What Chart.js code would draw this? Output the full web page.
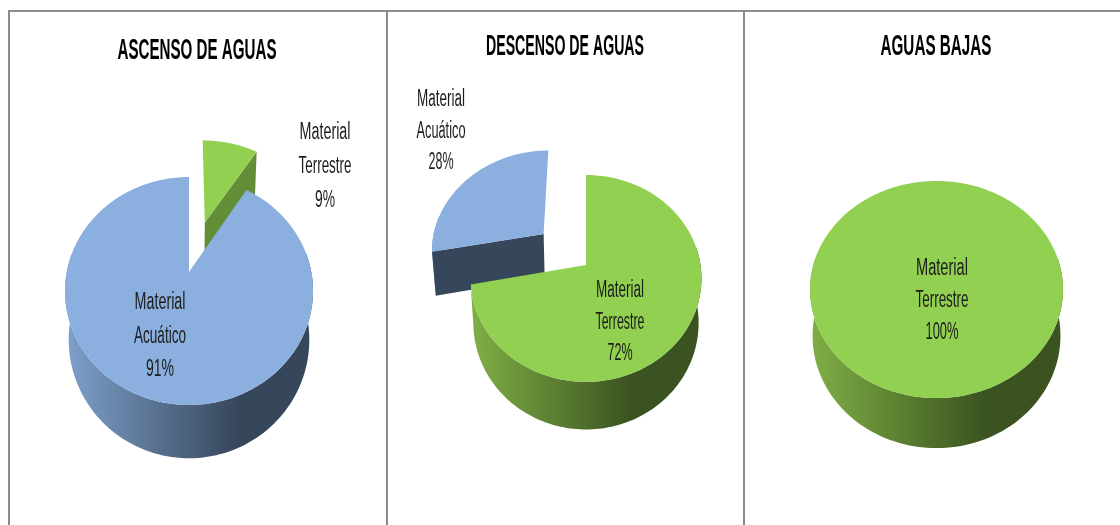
<!DOCTYPE html>
<html><head><meta charset="utf-8">
<style>
html,body{margin:0;padding:0;background:#fff;width:1120px;height:525px;overflow:hidden}
canvas{position:absolute;display:block;filter:blur(0.4px)}
.rule{position:absolute;background:#8c8c8c}
</style>
<script src="https://cdn.jsdelivr.net/npm/chart.js@4"></script>
</head><body>
<div class="rule" style="left:8px;top:10px;width:1112px;height:2px"></div>
<div class="rule" style="left:8px;top:10px;width:1.5px;height:515px"></div>
<div class="rule" style="left:386px;top:10px;width:1.5px;height:515px"></div>
<div class="rule" style="left:743px;top:10px;width:1.5px;height:515px"></div>
<canvas id="c1"></canvas><canvas id="c2"></canvas><canvas id="c3"></canvas>
<script>
// ---- data ----
const titles = ['ASCENSO DE AGUAS', 'DESCENSO DE AGUAS', 'AGUAS BAJAS'];
const labelsAscenso = ['Material Terrestre', 'Material Acuático'];
const valuesAscenso = [9, 91];
const labelsDescenso = ['Material Terrestre', 'Material Acuático'];
const valuesDescenso = [72, 28];
const labelsBajas = ['Material Terrestre'];
const valuesBajas = [100];
const explodeAscenso = [0.5, 0];
const explodeDescenso = [0, 0.5];
const explodeBajas = [0];

// ---- styles ----
const GREEN = {top:'#91d050', face:'#638d37', light:'#7fae45', dark:'#3a5320'};
const BLUE  = {top:'#8bb0e0', face:'#37475b', light:'#7d9fca', dark:'#37475b'};
const FONT = '"Liberation Sans Narrow","Liberation Sans",sans-serif';

// ---- panels: frame + perspective of the pie + text anchors ----
const panels = [
 {id:'c1', left:10, right:386, top:12, labels:labelsAscenso, values:valuesAscenso, explode:explodeAscenso,
  colors:[GREEN,BLUE], cx:189, cy:272, A:110.8, B:122.3, k:1/6, D:50, m:0.03,
  title:{text:titles[0], x:197, y:51, w:159},
  text:[{x:325,y:133,dy:34,w:[51,53,20]},{x:160,y:303,dy:33.5,w:[51,52,28]}]},
 {id:'c2', left:388, right:743, top:12, labels:labelsDescenso, values:valuesDescenso, explode:explodeDescenso,
  colors:[GREEN,BLUE], cx:586, cy:265, A:101.7, B:114.5, k:0.13, D:45.5, m:0.025,
  title:{text:titles[1], x:565, y:47, w:158},
  text:[{x:620,y:291,dy:31.5,w:[48,49,25]},{x:441,y:100,dy:31.5,w:[48,49,25]}]},
 {id:'c3', left:745, right:1120, top:12, labels:labelsBajas, values:valuesBajas, explode:explodeBajas,
  colors:[GREEN], cx:936.5, cy:275.4, A:106.7, B:125.4, k:0.13, D:47, m:0.02,
  title:{text:titles[2], x:936, y:47, w:111},
  text:[{x:942,y:269,dy:32,w:[52,53,33]}]}
];

function makeProjector(p){
  return (u,v,z)=>{
    const w = 1 + p.k*v + p.m*z;
    return [p.cx + p.B*u/w - p.left, p.cy - p.A*v/w + p.D*z/w - p.top];
  };
}

const pie3d = {
  id:'pie3d',
  beforeDatasetsDraw(chart){
    const p = chart.options.plugins.pie3d.panel;
    const P = makeProjector(p);
    const ctx = chart.ctx;
    const arcs = chart.getDatasetMeta(0).data;
    const total = p.values.reduce((a,b)=>a+b,0);
    // far, exploded slices first so the others overlap them
    const order = arcs.map((a,i)=>i).sort((a,b)=>p.explode[b]-p.explode[a]);
    ctx.save();
    for(const i of order){
      const arc = arcs[i], col = p.colors[i], e = p.explode[i];
      const a0 = arc.startAngle + Math.PI/2, a1 = arc.endAngle + Math.PI/2, mid=(a0+a1)/2;
      const ou = e*Math.sin(mid), ov = e*Math.cos(mid);
      const N = 180, rim=[], angs=[];
      for(let s=0;s<=N;s++){const a=a0+(a1-a0)*s/N; angs.push(a); rim.push([ou+Math.sin(a), ov+Math.cos(a)]);}
      const full = (a1-a0) > 6.28;
      // outer wall: only the part of the rim that faces the viewer
      const front = rim.filter((q,j)=>Math.cos(angs[j])<0.2);
      if(front.length>1){
        const gx0 = P(-1,-0.1,1)[0], gx1 = P(1,-0.1,1)[0];
        const g = ctx.createLinearGradient(gx0,0,gx1,0);
        g.addColorStop(0,col.light); g.addColorStop(0.7,col.dark); g.addColorStop(1,col.dark);
        ctx.beginPath();
        front.forEach((q,j)=>{const t=P(q[0],q[1],0); j?ctx.lineTo(t[0],t[1]):ctx.moveTo(t[0],t[1]);});
        for(let j=front.length-1;j>=0;j--){const t=P(front[j][0],front[j][1],1); ctx.lineTo(t[0],t[1]);}
        ctx.closePath(); ctx.fillStyle=g; ctx.fill();
      }
      // cut faces that look towards the viewer
      if(!full){
        const faces=[];
        if(Math.sin(a0)<-1e-6) faces.push(rim[0]);
        if(Math.sin(a1)>1e-6) faces.push(rim[N]);
        for(const q of faces){
          const a=P(ou,ov,0), b=P(q[0],q[1],0), c=P(q[0],q[1],1), d=P(ou,ov,1);
          ctx.beginPath(); ctx.moveTo(a[0],a[1]); ctx.lineTo(b[0],b[1]); ctx.lineTo(c[0],c[1]); ctx.lineTo(d[0],d[1]); ctx.closePath();
          ctx.fillStyle=col.face; ctx.fill();
        }
      }
      // top face
      ctx.beginPath();
      if(!full){const a=P(ou,ov,0); ctx.moveTo(a[0],a[1]);}
      rim.forEach((q,j)=>{const t=P(q[0],q[1],0); (j||!full)?ctx.lineTo(t[0],t[1]):ctx.moveTo(t[0],t[1]);});
      ctx.closePath(); ctx.fillStyle=col.top; ctx.fill();
    }
    // texts
    ctx.textAlign='center'; ctx.textBaseline='middle'; ctx.fillStyle='#1c1c1c';
    ctx.font='23px '+FONT;
    p.labels.forEach((lab,i)=>{
      const t=p.text[i], words=lab.split(' ');
      const lines=[words[0],words[1],Math.round(p.values[i]/total*100)+'%'];
      lines.forEach((s,j)=>ctx.fillText(s,t.x-p.left,t.y+j*t.dy-p.top,t.w[j]));
    });
    ctx.fillStyle='#000'; ctx.font='bold 29px '+FONT;
    ctx.fillText(p.title.text,p.title.x-p.left,p.title.y-p.top,p.title.w);
    ctx.restore();
    return false;
  }
};

panels.forEach(p=>{
  const c=document.getElementById(p.id);
  c.width=p.right-p.left; c.height=525-p.top;
  c.style.left=p.left+'px'; c.style.top=p.top+'px';
  new Chart(c,{type:'pie',
    data:{labels:p.labels,datasets:[{data:p.values,backgroundColor:p.colors.map(x=>x.top),borderWidth:0}]},
    options:{responsive:false,animation:false,
      plugins:{legend:{display:false},tooltip:{enabled:false},title:{display:false},pie3d:{panel:p}}},
    plugins:[pie3d]});
});
</script>
</body></html>
